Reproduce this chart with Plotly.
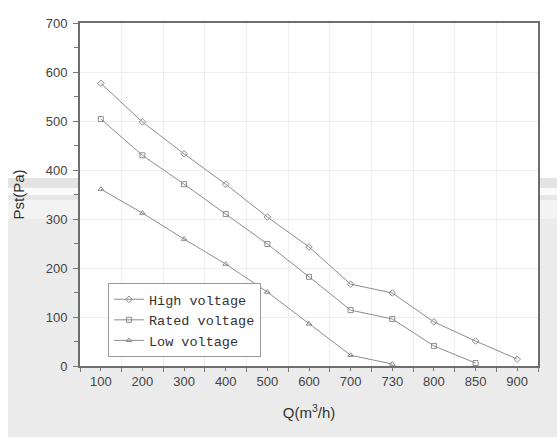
import plotly.graph_objects as go

categories = ["100", "200", "300", "400", "500", "600", "700", "730", "800", "850", "900"]
high_voltage = [577, 498, 433, 371, 304, 243, 167, 149, 90, 51, 14]
rated_voltage = [504, 430, 371, 310, 249, 182, 114, 96, 41, 6]
low_voltage = [361, 312, 259, 208, 151, 86, 22, 4]

line_col = "#8c8c8c"
fig = go.Figure()
series = [
    ("High voltage", high_voltage, "diamond-open"),
    ("Rated voltage", rated_voltage, "square-open"),
    ("Low voltage", low_voltage, "triangle-up-open"),
]
for name, vals, sym in series:
    fig.add_trace(go.Scatter(
        x=categories[:len(vals)], y=vals, name=name, mode="lines+markers",
        line=dict(color=line_col, width=1),
        marker=dict(symbol=sym, size=5, color=line_col, line=dict(width=1, color=line_col)),
    ))

# overlay axis carrying the tick marks at category centres
fig.add_trace(go.Scatter(x=categories, y=[0]*len(categories), xaxis="x2",
                         showlegend=False, hoverinfo="skip", mode="markers",
                         marker=dict(opacity=0)))

def band(y0, y1, color, x0=-0.157):
    return dict(type="rect", xref="paper", yref="paper", x0=x0, x1=1.1, y0=y0, y1=y1,
                fillcolor=color, line_width=0, layer="below")

shapes = [
    band(-0.207, 0.431, "#ebebeb"),
    band(0.431, 0.484, "#f3f3f3"),
    band(0.484, 0.4985, "#e6e6e6"),
    band(0.4985, 0.519, "#fafafa"),
    band(0.519, 0.548, "#e3e3e3"),
    # white plotting area on top of the background bands
    dict(type="rect", xref="paper", yref="paper", x0=0, x1=1, y0=0, y1=1,
         fillcolor="#ffffff", line_width=0, layer="below"),
]

fig.update_layout(
    width=557, height=445,
    margin=dict(l=80, r=19, t=23, b=79),
    paper_bgcolor="#ffffff",
    plot_bgcolor="rgba(0,0,0,0)",
    shapes=shapes,
    showlegend=True,
    hovermode=False,
    legend=dict(
        x=0.061, y=0.242, xanchor="left", yanchor="top",
        bgcolor="#ffffff", bordercolor="#999999", borderwidth=1,
        font=dict(family="Liberation Mono, DejaVu Sans Mono, monospace", size=13.5, color="#333333"),
        tracegroupgap=0, itemwidth=30,
    ),
    xaxis=dict(
        type="category", categoryorder="array", categoryarray=categories,
        range=[-0.5, 10.5], automargin=False,
        tickson="boundaries", ticks="outside", ticklen=4, tickcolor="#777777",
        showgrid=True, gridcolor="#eeeeee", gridwidth=1,
        showline=True, linecolor="#6e6e6e", linewidth=2, mirror=True,
        tickfont=dict(family="Liberation Sans, Arial", size=13, color="#444444"),
        ticklabelstandoff=2,
        title=dict(text="Q(m<sup>3</sup>/h)", standoff=20,
                   font=dict(family="Liberation Sans, Arial", size=15, color="#333333")),
        zeroline=False,
    ),
    xaxis2=dict(
        type="category", categoryorder="array", categoryarray=categories,
        range=[-0.5, 10.5], overlaying="x", anchor="y", side="bottom",
        ticks="outside", ticklen=4, tickcolor="#777777",
        showticklabels=False, showgrid=False, showline=False, zeroline=False,
    ),
    yaxis=dict(
        range=[0, 700], dtick=100, ticks="outside", ticklen=5, tickcolor="#777777",
        automargin=False,
        minor=dict(dtick=50, ticks="outside", ticklen=4, tickcolor="#777777", showgrid=False),
        showgrid=True, gridcolor="#eeeeee", gridwidth=1,
        showline=True, linecolor="#6e6e6e", linewidth=2, mirror=True,
        tickfont=dict(family="Liberation Sans, Arial", size=13, color="#444444"),
        ticklabelstandoff=3,
        title=dict(text="Pst(Pa)", standoff=17,
                   font=dict(family="Liberation Sans, Arial", size=15, color="#333333")),
        zeroline=False,
    ),
)

fig.write_html("out.html", config={"displayModeBar": False},
               post_script="document.body.style.margin='0';")
